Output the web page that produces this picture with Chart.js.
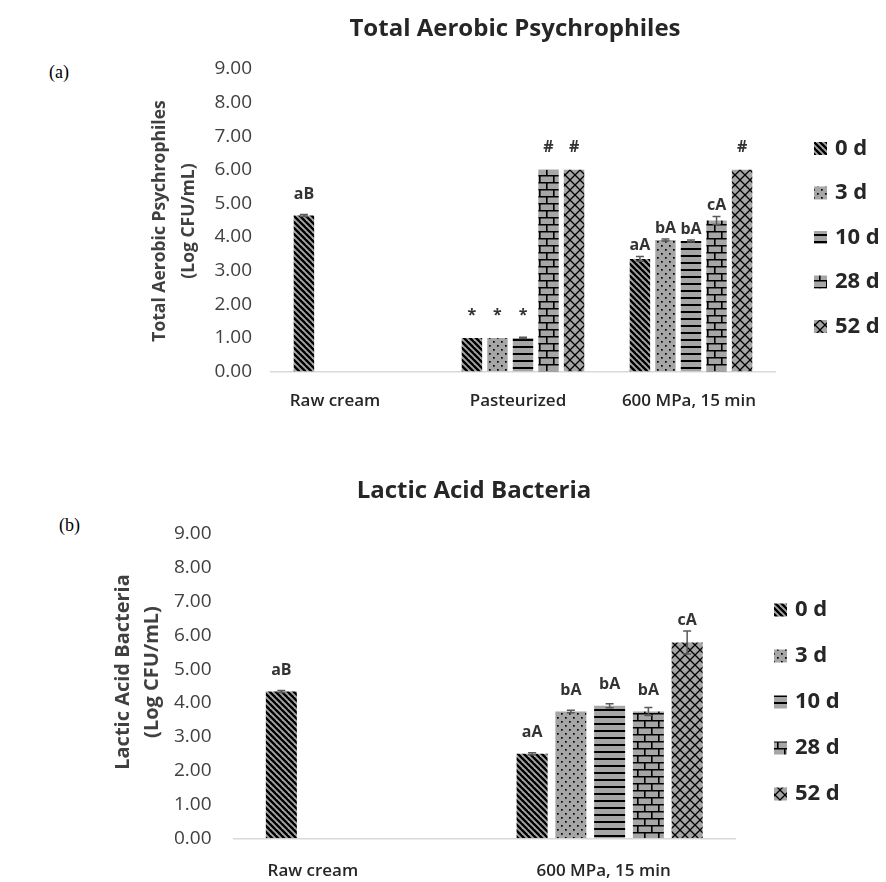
<!DOCTYPE html>
<html lang="en">
<head>
<meta charset="UTF-8">
<title>Total Aerobic Psychrophiles / Lactic Acid Bacteria</title>
<script src="https://cdn.jsdelivr.net/npm/chart.js"></script>
<style>
    body {
        margin: 0;
        background: #fff;
        width: 886px;
        height: 882px;
        position: relative;
        overflow: hidden;
    }
    .panel {
        position: absolute;
        left: 0;
        width: 886px;
    }
    #wrapA { top: 0; height: 440px; }
    #wrapB { top: 440px; height: 442px; }
    .tag {
        position: absolute;
        font-family: 'Liberation Serif', serif;
        font-size: 18px;
        line-height: 20px;
        color: #000;
    }
</style>
</head>
<body>
<div class="tag" style="left:49px;top:62px">(a)</div>
<div class="tag" style="left:59px;top:515px">(b)</div>
<div class="panel" id="wrapA"><canvas id="chartA"></canvas></div>
<div class="panel" id="wrapB"><canvas id="chartB"></canvas></div>

<script>
// ---- data ----
const SERIES = ['0 d', '3 d', '10 d', '28 d', '52 d'];
const Y_TICKS = ['0.00', '1.00', '2.00', '3.00', '4.00', '5.00', '6.00', '7.00', '8.00', '9.00'];

// (a) Total aerobic psychrophiles
const TAP_CATS = ['Raw cream', 'Pasteurized', '600 MPa, 15 min'];
const TAP_0D  = [4.64, 1.00, 3.35];
const TAP_3D  = [null, 1.00, 3.91];
const TAP_10D = [null, 1.00, 3.88];
const TAP_28D = [null, 6.00, 4.49];
const TAP_52D = [null, 6.00, 6.00];
const TAP_ERR_0D  = [0.03, 0, 0.07];
const TAP_ERR_3D  = [0, 0, 0.03];
const TAP_ERR_10D = [0, 0.02, 0.03];
const TAP_ERR_28D = [0, 0, 0.12];
const TAP_ERR_52D = [0, 0, 0];
const TAP_MARK_0D  = ['aB', '*', 'aA'];
const TAP_MARK_3D  = ['', '*', 'bA'];
const TAP_MARK_10D = ['', '*', 'bA'];
const TAP_MARK_28D = ['', '#', 'cA'];
const TAP_MARK_52D = ['', '#', '#'];

// (b) Lactic acid bacteria
const LAB_CATS = ['Raw cream', '600 MPa, 15 min'];
const LAB_0D  = [4.34, 2.50];
const LAB_3D  = [null, 3.75];
const LAB_10D = [null, 3.92];
const LAB_28D = [null, 3.75];
const LAB_52D = [null, 5.79];
const LAB_ERR_0D  = [0.03, 0.03];
const LAB_ERR_3D  = [0, 0.04];
const LAB_ERR_10D = [0, 0.06];
const LAB_ERR_28D = [0, 0.12];
const LAB_ERR_52D = [0, 0.34];
const LAB_MARK_0D  = ['aB', 'aA'];
const LAB_MARK_3D  = ['', 'bA'];
const LAB_MARK_10D = ['', 'bA'];
const LAB_MARK_28D = ['', 'bA'];
const LAB_MARK_52D = ['', 'cA'];

Chart.defaults.font.family = "'Open Sans', sans-serif";

// hatch fills, one per storage day
const FILL = '#a6a6a6';
function makePattern(ctx, kind) {
    const c = document.createElement('canvas');
    const g = c.getContext('2d');
    let w = 8, h = 8;
    if (kind === 'diag') { w = h = 6; }
    if (kind === 'hline') { w = 7; h = 7; }
    if (kind === 'brick') { w = 14; h = 14; }
    if (kind === 'cross') { w = h = 10; }
    c.width = w; c.height = h;
    g.fillStyle = FILL;
    g.fillRect(0, 0, w, h);
    g.strokeStyle = '#000';
    g.fillStyle = '#000';
    if (kind === 'diag') {
        g.lineWidth = 2.4;
        for (const k of [-w, 0, w]) {
            g.beginPath(); g.moveTo(k - 1, -1); g.lineTo(k + w + 1, h + 1); g.stroke();
        }
    } else if (kind === 'dots') {
        g.fillRect(1, 1, 1.7, 1.7);
        g.fillRect(5, 5, 1.7, 1.7);
    } else if (kind === 'hline') {
        g.fillRect(0, 3, w, 2);
    } else if (kind === 'brick') {
        g.lineWidth = 1.6;
        g.beginPath();
        g.moveTo(0, 0.8); g.lineTo(w, 0.8);
        g.moveTo(0, 7.8); g.lineTo(w, 7.8);
        g.moveTo(0.8, 0); g.lineTo(0.8, 7.8);
        g.moveTo(7.8, 7.8); g.lineTo(7.8, 14);
        g.stroke();
    } else if (kind === 'cross') {
        g.lineWidth = 1.3;
        g.beginPath();
        g.moveTo(-1, -1); g.lineTo(w + 1, h + 1);
        g.moveTo(w + 1, -1); g.lineTo(-1, h + 1);
        g.stroke();
    }
    return ctx.createPattern(c, 'repeat');
}
const KINDS = ['diag', 'dots', 'hline', 'brick', 'cross'];

// error bars, letters, axis texts, title and legend drawn on top
const overlay = {
    id: 'overlay',
    afterDatasetsDraw(chart, args, o) {
        const ctx = chart.ctx;
        const ys = chart.scales.y;
        const xs = chart.scales.x;
        ctx.save();
        chart.data.datasets.forEach((ds, i) => {
            const meta = chart.getDatasetMeta(i);
            meta.data.forEach((bar, j) => {
                const v = ds.data[j];
                if (v == null) return;
                const e = ds.errors[j] || 0;
                const x = bar.x;
                const top = ys.getPixelForValue(v + e);
                const bot = ys.getPixelForValue(v - e);
                if (e > 0) {
                    ctx.strokeStyle = '#595959';
                    ctx.lineWidth = 1.5;
                    ctx.beginPath();
                    ctx.moveTo(x, top); ctx.lineTo(x, bot);
                    ctx.moveTo(x - 4, top); ctx.lineTo(x + 4, top);
                    ctx.moveTo(x - 4, bot); ctx.lineTo(x + 4, bot);
                    ctx.stroke();
                }
                const lab = ds.marks[j];
                if (!lab) return;
                const sym = lab === '*' || lab === '#';
                const y = sym ? bar.y - o.symGap : Math.min(bar.y - o.barGap[j], top - o.errGap);
                ctx.fillStyle = '#333';
                ctx.font = "bold 16px 'Open Sans', sans-serif";
                ctx.textAlign = 'center';
                ctx.textBaseline = 'middle';
                ctx.fillText(lab, x, y);
            });
        });

        // category names under the axis
        ctx.fillStyle = '#262626';
        ctx.font = "600 17px 'Open Sans', sans-serif";
        ctx.textAlign = 'center';
        ctx.textBaseline = 'middle';
        chart.data.labels.forEach((name, i) => {
            ctx.fillText(name, xs.getPixelForTick(i) + o.catShift[i], chart.chartArea.bottom + o.catGap);
        });

        // vertical axis title
        ctx.fillStyle = '#404040';
        ctx.font = 'bold ' + o.yTitleSize + "px 'Open Sans', sans-serif";
        o.yTitle.forEach((line, i) => {
            ctx.save();
            ctx.translate(o.yTitleX[i], o.yTitleY);
            ctx.rotate(-Math.PI / 2);
            ctx.fillText(line, 0, 0);
            ctx.restore();
        });

        // chart title
        ctx.fillStyle = '#262626';
        ctx.font = "bold 24px 'Open Sans', sans-serif";
        ctx.fillText(o.title, o.titleX, o.titleY);

        // legend
        chart.data.datasets.forEach((ds, i) => {
            const cy = o.legY + i * o.legStep;
            ctx.fillStyle = ds.backgroundColor;
            ctx.fillRect(o.legX, cy - 6.5, 13, 13);
            ctx.fillStyle = '#262626';
            ctx.font = "bold 22px 'Open Sans', sans-serif";
            ctx.textAlign = 'left';
            ctx.fillText(ds.label, o.legX + 21, cy);
        });
        ctx.restore();
    }
};

function buildChart(id, cats, values, errs, marks, cfg) {
    const ctx = document.getElementById(id).getContext('2d');
    const datasets = SERIES.map((name, i) => ({
        label: name,
        data: values[i],
        errors: errs[i],
        marks: marks[i],
        backgroundColor: makePattern(ctx, KINDS[i]),
        borderWidth: 0,
        categoryPercentage: cfg.catPct,
        barPercentage: 0.8
    }));
    return new Chart(ctx, {
        type: 'bar',
        data: { labels: cats, datasets: datasets },
        plugins: [overlay],
        options: {
            responsive: true,
            maintainAspectRatio: false,
            animation: false,
            layout: { padding: cfg.padding },
            plugins: {
                legend: { display: false },
                tooltip: { enabled: false },
                overlay: cfg.overlay
            },
            scales: {
                x: {
                    grid: { display: false, drawTicks: false },
                    border: { display: true, color: '#d9d9d9', width: 1.5 },
                    ticks: { display: false },
                    afterFit: s => { s.height = cfg.xHeight; }
                },
                y: {
                    min: 0,
                    max: 9,
                    grid: { display: false, drawTicks: false },
                    border: { display: false },
                    ticks: {
                        stepSize: 1,
                        color: '#404040',
                        font: { size: 19 },
                        padding: cfg.yPad,
                        callback: (v, i) => Y_TICKS[i]
                    },
                    afterFit: s => { s.width = cfg.yWidth; }
                }
            }
        }
    });
}

buildChart('chartA', TAP_CATS,
    [TAP_0D, TAP_3D, TAP_10D, TAP_28D, TAP_52D],
    [TAP_ERR_0D, TAP_ERR_3D, TAP_ERR_10D, TAP_ERR_28D, TAP_ERR_52D],
    [TAP_MARK_0D, TAP_MARK_3D, TAP_MARK_10D, TAP_MARK_28D, TAP_MARK_52D],
    {
        catPct: 0.76,
        padding: { left: 145, right: 111, top: 69, bottom: 0 },
        xHeight: 68.5,
        yPad: 19, yWidth: 126,
        overlay: {
            title: 'Total Aerobic Psychrophiles', titleX: 515, titleY: 29,
            yTitle: ['Total Aerobic Psychrophiles', '(Log CFU/mL)'],
            yTitleX: [160, 189], yTitleY: 221, yTitleSize: 17.5,
            catShift: [-20, -5, -2], catGap: 30,
            legX: 814, legY: 148.5, legStep: 44.5,
            barGap: [21, 11, 11], errGap: 11, symGap: 22
        }
    });

buildChart('chartB', LAB_CATS,
    [LAB_0D, LAB_3D, LAB_10D, LAB_28D, LAB_52D],
    [LAB_ERR_0D, LAB_ERR_3D, LAB_ERR_10D, LAB_ERR_28D, LAB_ERR_52D],
    [LAB_MARK_0D, LAB_MARK_3D, LAB_MARK_10D, LAB_MARK_28D, LAB_MARK_52D],
    {
        catPct: 0.773,
        padding: { left: 110, right: 151, top: 94, bottom: 0 },
        xHeight: 43.7,
        yPad: 22, yWidth: 123.5,
        overlay: {
            title: 'Lactic Acid Bacteria', titleX: 474, titleY: 51,
            yTitle: ['Lactic Acid Bacteria', '(Log CFU/mL)'],
            yTitleX: [123, 152], yTitleY: 232, yTitleSize: 20,
            catShift: [-46, -6], catGap: 33,
            legX: 774, legY: 170, legStep: 46,
            barGap: [21, 21], errGap: 11, symGap: 22
        }
    });
</script>
</body>
</html>
